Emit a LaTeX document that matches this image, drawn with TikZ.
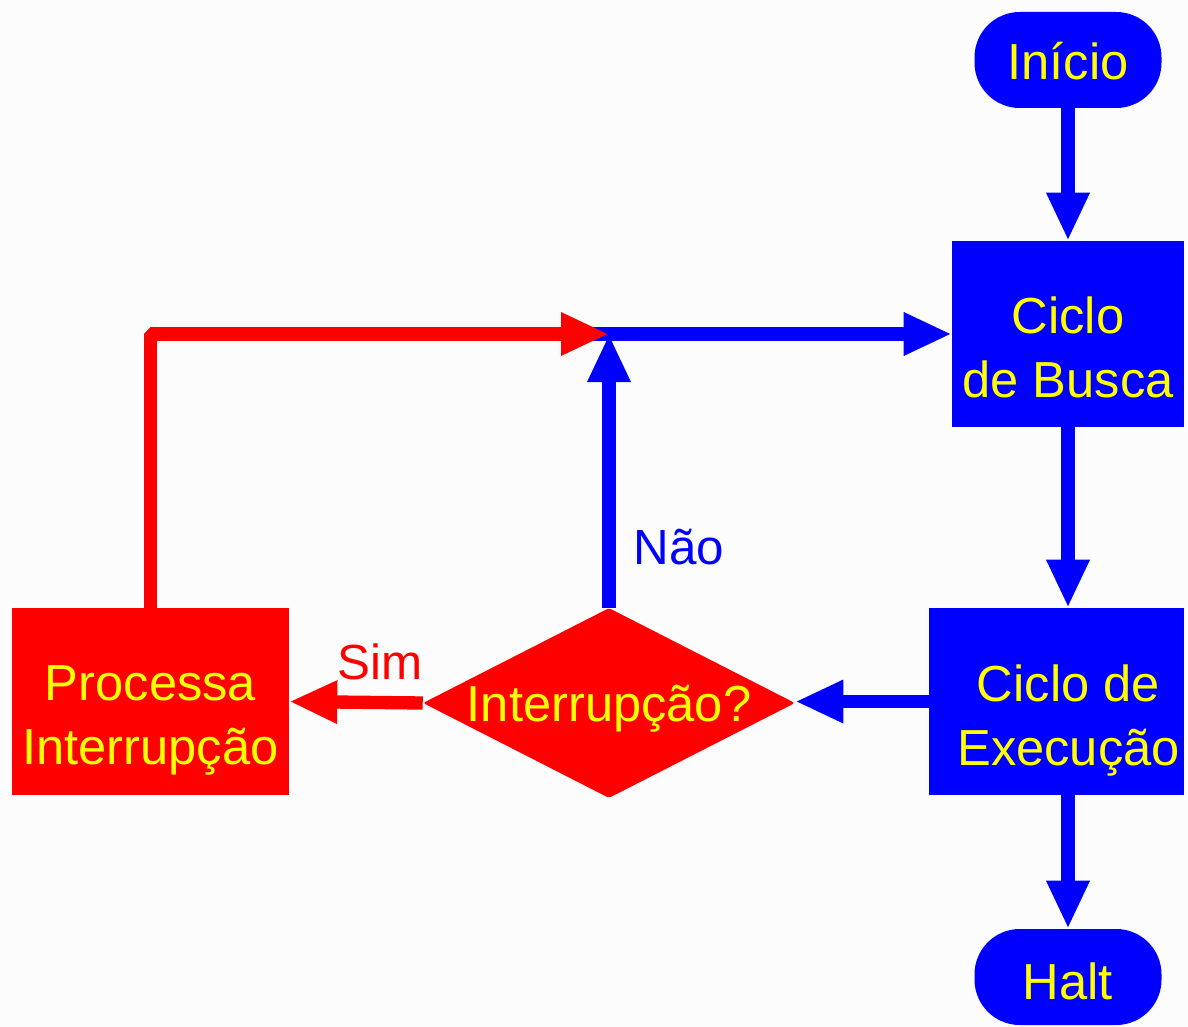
\documentclass[tikz,border=0pt]{standalone}
\usepackage{fontspec}
\setmainfont{Liberation Sans}
\usetikzlibrary{arrows.meta,shapes.geometric}
\definecolor{cblue}{RGB}{0,0,255}
\definecolor{cred}{RGB}{255,0,0}
\definecolor{cyel}{RGB}{255,255,0}
\definecolor{paper}{RGB}{252,252,252}
\newcommand\pu{0.75pt}
\begin{document}
\begin{tikzpicture}[x=0.75pt,y=-0.75pt,
  term/.style={fill=cblue,rounded corners=34pt,inner sep=0pt,
    minimum width=187*\pu,minimum height=96*\pu},
  txt/.style={text=cyel,align=center,font=\fontsize{38}{48}\selectfont},
  lbl/.style={font=\fontsize{37}{44}\selectfont},
  barrow/.style={draw=cblue,line width=10pt,
    -{Triangle[length=36pt,width=30pt]}},
  rarrow/.style={draw=cred,line width=10pt,line join=bevel,
    -{Triangle[length=36pt,width=30pt]}}]
  % background and page size
  \fill[paper] (0,0) rectangle (1188,1027);
  \useasboundingbox (0,0) rectangle (1188,1027);

  % shapes
  \node[term] (inicio) at (1068,60) {};
  \node[txt] at ([yshift=-1pt]inicio.center) {Início};
  \node[fill=cblue,inner sep=0pt,minimum width=232*\pu,minimum height=186*\pu]
    (busca) at (1068,334) {};
  \node[txt] at ([yshift=-10pt]busca.center) {Ciclo\\de Busca};
  \node[fill=cblue,inner sep=0pt,minimum width=255*\pu,minimum height=187*\pu]
    (exec) at (1056.5,701.5) {};
  \node[txt] at ([xshift=9pt,yshift=-14pt]exec.center) {Ciclo de\\Execução};
  \node[term] (halt) at (1068,977) {};
  \node[txt] at ([yshift=-3pt]halt.center) {Halt};
  \node[diamond,fill=cred,inner sep=0pt,rounded corners=2pt,
    minimum width=372*\pu,minimum height=190*\pu] (dec) at (609,703) {};
  \node[txt] at ([yshift=-4pt]dec.center) {Interrupção?};
  \node[fill=cred,inner sep=0pt,minimum width=277*\pu,minimum height=187*\pu]
    (proc) at (150.5,701.5) {};
  \node[txt] at ([yshift=-14pt]proc.center) {Processa\\Interrupção};

  \coordinate (j) at (609,334);

  % connectors
  \draw[barrow,shorten <=-13pt] (j) -- (busca.west);
  \draw[rarrow] (dec.west) -- (proc.east);
  \draw[rarrow] (proc.north) |- (j);
  \draw[barrow] (inicio.south) -- (busca.north);
  \draw[barrow] (busca.south) -- (busca.south |- exec.north);
  \draw[barrow] (halt.north |- exec.south) -- (halt.north);
  \draw[barrow] (exec.west) -- (exec.west -| dec.east);
  \draw[barrow] (dec.north) -- (j);

  % branch labels
  \node[lbl,text=cred] (sim) at (380,662) {Sim};
  \node[lbl,text=cblue] (nao) at (679,547) {Não};
\end{tikzpicture}
\end{document}
